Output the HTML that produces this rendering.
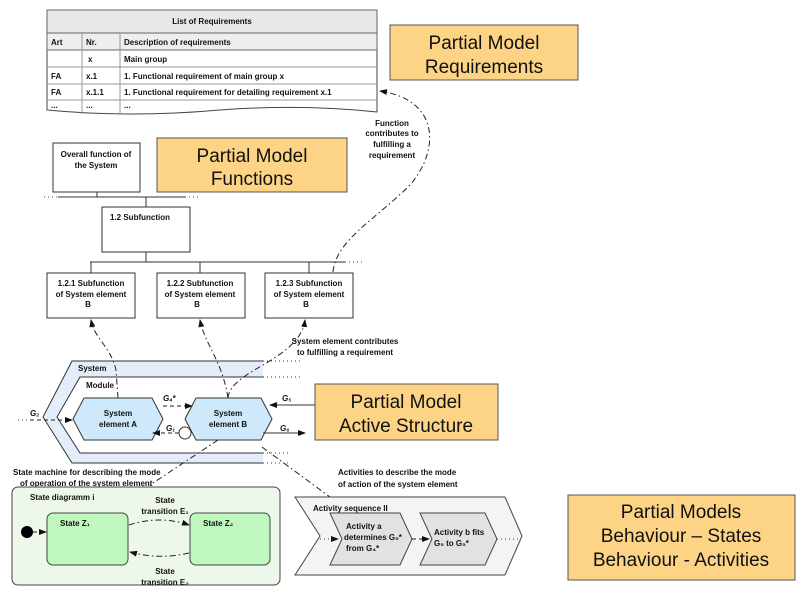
<!DOCTYPE html>
<html><head><meta charset="utf-8"><style>
html,body{margin:0;padding:0;background:#fff}
svg{display:block}
text{font-family:"Liberation Sans",sans-serif;font-weight:bold;font-size:8px;fill:#111}
.big{font-weight:normal;font-size:19px}
.dd{fill:none;stroke:#222;stroke-width:1;stroke-dasharray:6 3 1.5 3}
.ds{fill:none;stroke:#222;stroke-width:1;stroke-dasharray:4 3}
.dot{stroke:#444;stroke-dasharray:1 3;fill:none}
</style></head><body>
<svg width="800" height="600" viewBox="0 0 800 600" xmlns="http://www.w3.org/2000/svg">
<defs><marker id="a" markerWidth="8" markerHeight="6" refX="7" refY="3" orient="auto"><path d="M0,0L8,3L0,6z" fill="#111"/></marker></defs>
<!-- table -->
<path d="M47,10H377V112Q300,104 220,110Q130,118 47,110Z" fill="#fff" stroke="#444"/>
<rect x="47" y="10" width="330" height="23" fill="#e8e8e8" stroke="#666"/>
<rect x="47" y="33" width="330" height="17" fill="#eee" stroke="#666"/>
<g stroke="#999"><line x1="47" y1="67" x2="377" y2="67"/><line x1="47" y1="84" x2="377" y2="84"/><line x1="47" y1="100" x2="377" y2="100"/>
<line x1="82" y1="33" x2="82" y2="114"/><line x1="120" y1="33" x2="120" y2="114"/></g>
<text x="212" y="24" text-anchor="middle">List of Requirements</text>
<text x="51" y="45">Art</text><text x="86" y="45">Nr.</text><text x="124" y="45">Description of requirements</text>
<text x="88" y="62">x</text><text x="124" y="62">Main group</text>
<text x="51" y="79">FA</text><text x="86" y="79">x.1</text><text x="124" y="79">1. Functional requirement of main group x</text>
<text x="51" y="95">FA</text><text x="86" y="95">x.1.1</text><text x="124" y="95">1. Functional requirement for detailing requirement x.1</text>
<text x="51" y="108">...</text><text x="86" y="108">...</text><text x="124" y="108">...</text>
<!-- orange boxes -->
<g fill="#fdd485" stroke="#555"><rect x="390" y="25" width="188" height="55"/><rect x="157" y="138" width="190" height="54"/><rect x="315" y="384" width="183" height="56"/><rect x="568" y="495" width="227" height="85"/></g>
<text class="big" x="484" y="49" text-anchor="middle">Partial Model</text><text class="big" x="484" y="73" text-anchor="middle">Requirements</text>
<text class="big" x="252" y="162" text-anchor="middle">Partial Model</text><text class="big" x="252" y="185" text-anchor="middle">Functions</text>
<text class="big" x="406" y="408" text-anchor="middle">Partial Model</text><text class="big" x="406" y="432" text-anchor="middle">Active Structure</text>
<text class="big" x="681" y="518" text-anchor="middle">Partial Models</text><text class="big" x="681" y="542" text-anchor="middle">Behaviour – States</text><text class="big" x="681" y="566" text-anchor="middle">Behaviour - Activities</text>
<!-- function tree -->
<g fill="#fff" stroke="#333"><rect x="53" y="143" width="87" height="49"/><rect x="102" y="207" width="88" height="45"/>
<rect x="47" y="273" width="88" height="45"/><rect x="157" y="273" width="88" height="45"/><rect x="265" y="273" width="88" height="45"/></g>
<g stroke="#333"><line x1="58" y1="197" x2="185" y2="197"/><line x1="97" y1="192" x2="97" y2="197"/><line x1="146" y1="197" x2="146" y2="207"/>
<line x1="90" y1="262" x2="345" y2="262"/><line x1="146" y1="252" x2="146" y2="262"/><line x1="91" y1="262" x2="91" y2="273"/><line x1="200" y1="262" x2="200" y2="273"/><line x1="309" y1="262" x2="309" y2="273"/></g>
<line class="dot" x1="44" y1="197" x2="58" y2="197"/><line class="dot" x1="185" y1="197" x2="198" y2="197"/><line class="dot" x1="345" y1="262" x2="362" y2="262"/>
<text x="96" y="157" text-anchor="middle">Overall function of</text><text x="96" y="168" text-anchor="middle">the System</text>
<text x="110" y="220">1.2 Subfunction</text>
<g text-anchor="middle"><text x="91" y="286">1.2.1 Subfunction</text><text x="91" y="297">of System element</text><text x="88" y="307">B</text>
<text x="200" y="286">1.2.2 Subfunction</text><text x="200" y="297">of System element</text><text x="197" y="307">B</text>
<text x="309" y="286">1.2.3 Subfunction</text><text x="309" y="297">of System element</text><text x="306" y="307">B</text>
<text x="392" y="126">Function</text><text x="392" y="136">contributes to</text><text x="392" y="147">fulfilling a</text><text x="392" y="158">requirement</text></g>
<text x="345" y="344" text-anchor="middle">System element contributes</text><text x="345" y="355" text-anchor="middle">to fulfilling a requirement</text>
<path class="dd" d="M333,272 C336,240 375,220 410,185 C440,150 440,100 380,91" marker-end="url(#a)"/>
<!-- system -->
<path d="M263,361H72L43,417L72,463H263V453H80L57,417L80,377H263Z" fill="#e4eefa" stroke="none"/>
<path d="M263,361H72L43,417L72,463H263" fill="none" stroke="#333"/>
<path d="M263,377H80L57,417L80,453H263" fill="none" stroke="#333"/>
<line class="dot" x1="263" y1="361" x2="300" y2="361"/><line class="dot" x1="263" y1="377" x2="300" y2="377"/><line class="dot" x1="263" y1="453" x2="290" y2="453"/><line class="dot" x1="263" y1="463" x2="290" y2="463"/>
<text x="78" y="371" font-size="9">System</text><text x="86" y="388">Module</text>
<g fill="#cde9fb" stroke="#333"><path d="M84,398H152L163,419L152,440H84L73,419Z"/><path d="M196,398H261L272,419L261,440H196L185,419Z"/></g>
<circle cx="185" cy="433" r="6" fill="#fff" stroke="#333"/>
<g text-anchor="middle"><text x="118" y="416">System</text><text x="118" y="427">element A</text><text x="228" y="416">System</text><text x="228" y="427">element B</text></g>
<text x="30" y="416" font-style="italic" font-size="9">G₂</text><text x="163" y="401" font-style="italic" font-size="9">G₄*</text><text x="166" y="431" font-style="italic" font-size="9">G₁</text>
<text x="282" y="401" font-style="italic" font-size="9">G₅</text><text x="280" y="431" font-style="italic" font-size="9">G₆</text>
<line class="ds" x1="30" y1="420" x2="72" y2="420" marker-end="url(#a)"/><line class="dot" x1="18" y1="420" x2="30" y2="420"/>
<line class="ds" x1="163" y1="406" x2="192" y2="406" marker-end="url(#a)"/>
<line class="ds" x1="179" y1="433" x2="153" y2="433" marker-end="url(#a)"/>
<line stroke="#333" x1="315" y1="405" x2="270" y2="405" marker-end="url(#a)"/>
<line stroke="#333" x1="263" y1="433" x2="305" y2="433" marker-end="url(#a)"/>
<!-- connectors -->
<path class="dd" d="M118,398 L116,370 C110,345 95,340 91,320" marker-end="url(#a)"/>
<path class="dd" d="M228,398 C222,360 205,345 200,320" marker-end="url(#a)"/>
<path class="dd" d="M228,398 C230,370 300,360 305,320" marker-end="url(#a)"/>
<path class="dd" d="M218,440 L150,485"/>
<path class="dd" d="M262,447 L330,497"/>
<text x="13" y="475">State machine for describing the mode</text><text x="20" y="486">of operation of the system element</text>
<text x="338" y="475">Activities to describe the mode</text><text x="338" y="487">of action of the system element</text>
<!-- state diagram -->
<rect x="12" y="487" width="268" height="98" rx="6" fill="#eef8ea" stroke="#444"/>
<text x="30" y="500">State diagramm i</text>
<rect x="47" y="513" width="81" height="52" rx="6" fill="#bff7bf" stroke="#444"/>
<rect x="190" y="513" width="80" height="52" rx="6" fill="#bff7bf" stroke="#444"/>
<text x="60" y="526">State Z₁</text><text x="203" y="526">State Z₂</text>
<circle cx="27" cy="532" r="6" fill="#000"/><line class="ds" x1="33" y1="532" x2="46" y2="532" marker-end="url(#a)"/>
<path class="dd" d="M129,525Q160,515 189,525" marker-end="url(#a)"/>
<path class="dd" d="M189,553Q160,560 130,552" marker-end="url(#a)"/>
<g text-anchor="middle"><text x="165" y="503">State</text><text x="165" y="514">transition E₁</text><text x="165" y="574">State</text><text x="165" y="585">transition E₂</text></g>
<!-- activity -->
<path d="M295,497H505L522,536L505,575H295L320,536Z" fill="#f4f4f4" stroke="#444"/>
<text x="313" y="511">Activity sequence II</text>
<path d="M330,513H400L412,539L400,565H330L342,539Z" fill="#e2e2e2" stroke="#444"/>
<path d="M420,513H485L497,539L485,565H420L432,539Z" fill="#e2e2e2" stroke="#444"/>
<text x="346" y="529">Activity a</text><text x="344" y="540">determines G₅*</text><text x="346" y="551">from G₄*</text>
<text x="434" y="535">Activity b fits</text><text x="434" y="546">G₅ to G₅*</text>
<line class="dot" x1="320" y1="539" x2="338" y2="539" marker-end="url(#a)"/>
<line class="ds" x1="412" y1="539" x2="429" y2="539" marker-end="url(#a)"/>
<line class="dot" x1="497" y1="539" x2="520" y2="539"/>
</svg>
</body></html>
